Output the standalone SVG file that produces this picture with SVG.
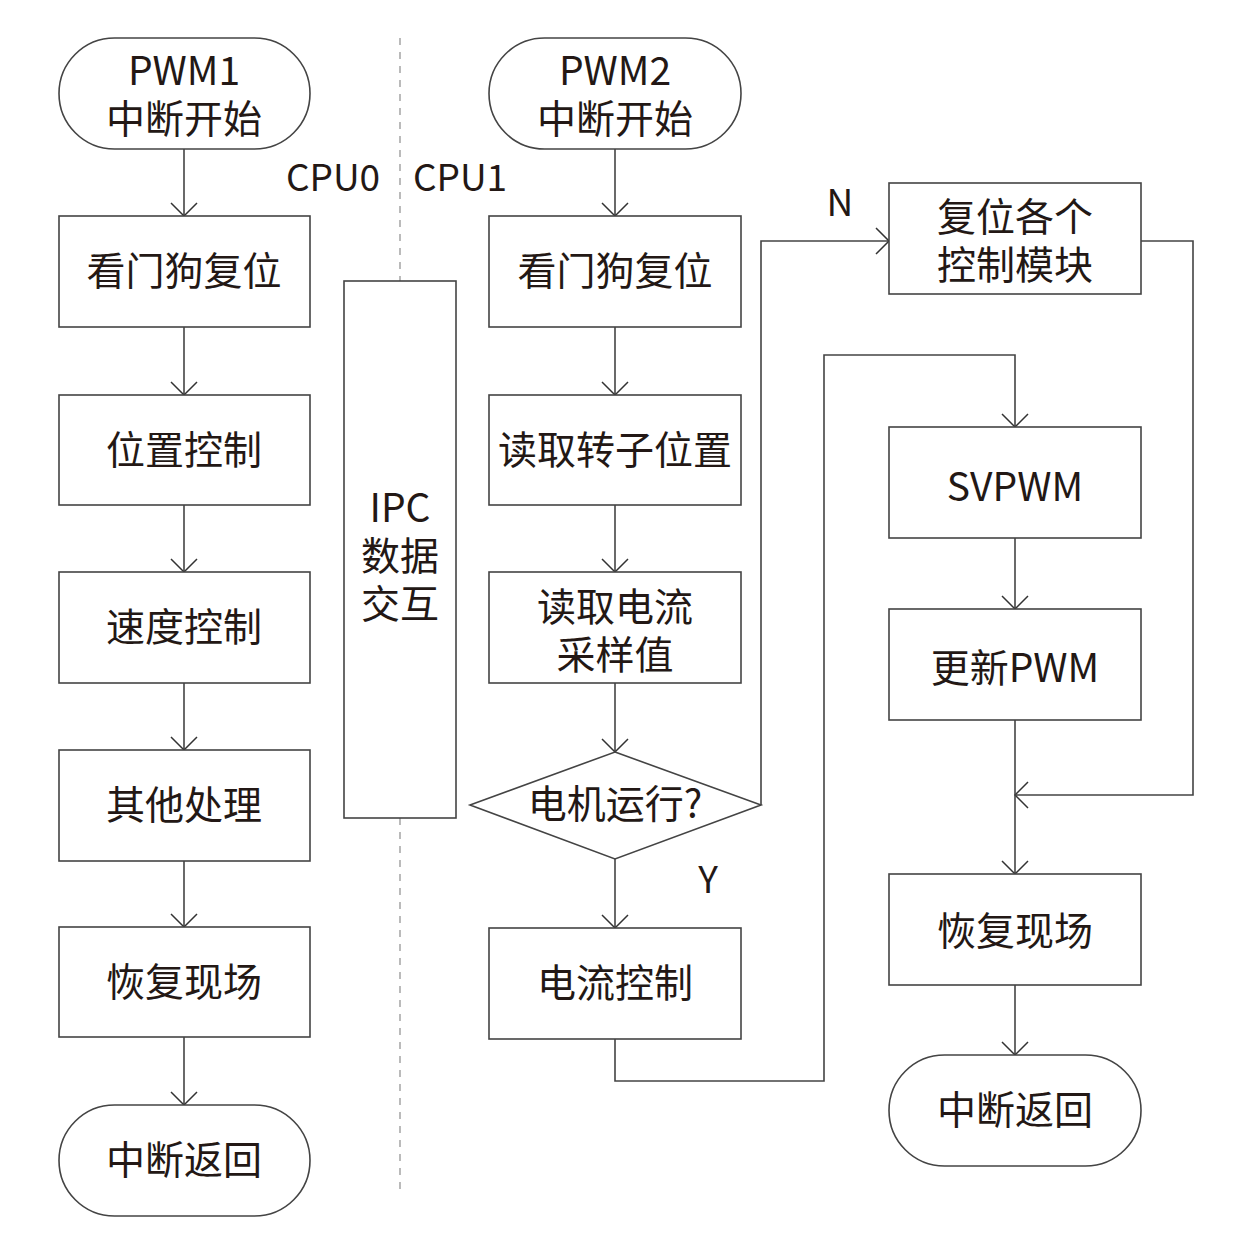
<svg xmlns="http://www.w3.org/2000/svg" width="1251" height="1251" viewBox="0 0 1251 1251">
<defs>
<marker id="arr" markerUnits="userSpaceOnUse" markerWidth="30" markerHeight="30" refX="15" refY="15" orient="auto" overflow="visible">
<path d="M2,2 L15,15 L2,28" fill="none" stroke="#333" stroke-width="1.5"/>
</marker>
<style>
.box{fill:#fff;stroke:#444;stroke-width:1.6}
.t{font-family:"Noto Sans CJK SC","Noto Sans",sans-serif;font-size:39px;fill:#231815;text-anchor:middle}
.s{font-family:"Noto Sans CJK SC","Noto Sans",sans-serif;font-size:37px;fill:#231815;text-anchor:middle}
.c{fill:none;stroke:#444;stroke-width:1.6;marker-end:url(#arr)}
.d{fill:none;stroke:#aaa;stroke-width:1.6;stroke-dasharray:7,7}
</style>
</defs>
<rect width="1251" height="1251" fill="#fff"/>

<g id="divider">
<line class="d" x1="400" y1="38" x2="400" y2="281"/>
<line class="d" x1="400" y1="818" x2="400" y2="1190"/>
<text class="s" x="333" y="191">CPU0</text>
<text class="s" x="460" y="191">CPU1</text>
</g>

<g id="connectors">
<line class="c" x1="184" y1="149" x2="184" y2="216"/>
<line class="c" x1="184" y1="327" x2="184" y2="395"/>
<line class="c" x1="184" y1="505" x2="184" y2="572"/>
<line class="c" x1="184" y1="683" x2="184" y2="750"/>
<line class="c" x1="184" y1="861" x2="184" y2="927"/>
<line class="c" x1="184" y1="1037" x2="184" y2="1105"/>

<line class="c" x1="615" y1="149" x2="615" y2="216"/>
<line class="c" x1="615" y1="327" x2="615" y2="395"/>
<line class="c" x1="615" y1="505" x2="615" y2="572"/>
<line class="c" x1="615" y1="683" x2="615" y2="752"/>
<line class="c" x1="615" y1="859" x2="615" y2="928"/>

<polyline class="c" points="761,805 761,241 889,241"/>
<polyline class="c" points="1141,241 1193,241 1193,795 1015,795"/>
<polyline class="c" points="615,1039 615,1081 824,1081 824,355 1015,355 1015,427"/>
<line class="c" x1="1015" y1="538" x2="1015" y2="609"/>
<line class="c" x1="1015" y1="720" x2="1015" y2="874"/>
<line class="c" x1="1015" y1="985" x2="1015" y2="1055"/>

<text class="s" x="840" y="216">N</text>
<text class="s" x="708" y="893">Y</text>
</g>

<g id="pwm1">
<rect class="box" x="59" y="38" width="251" height="111" rx="55.5"/>
<text class="t" x="184" y="85">PWM1<tspan x="184" dy="48">中断开始</tspan></text>
</g>
<g id="wdt1">
<rect class="box" x="59" y="216" width="251" height="111"/>
<text class="t" x="184" y="285">看门狗复位</text>
</g>
<g id="pos">
<rect class="box" x="59" y="395" width="251" height="110"/>
<text class="t" x="184" y="464">位置控制</text>
</g>
<g id="speed">
<rect class="box" x="59" y="572" width="251" height="111"/>
<text class="t" x="184" y="641">速度控制</text>
</g>
<g id="other">
<rect class="box" x="59" y="750" width="251" height="111"/>
<text class="t" x="184" y="819">其他处理</text>
</g>
<g id="restore1">
<rect class="box" x="59" y="927" width="251" height="110"/>
<text class="t" x="184" y="996">恢复现场</text>
</g>
<g id="ret1">
<rect class="box" x="59" y="1105" width="251" height="111" rx="55.5"/>
<text class="t" x="184" y="1174">中断返回</text>
</g>

<g id="ipc">
<rect class="box" x="344" y="281" width="112" height="537"/>
<text class="t" x="400" y="522">IPC<tspan x="400" dy="48">数据</tspan><tspan x="400" dy="48">交互</tspan></text>
</g>

<g id="pwm2">
<rect class="box" x="489" y="38" width="252" height="111" rx="55.5"/>
<text class="t" x="615" y="85">PWM2<tspan x="615" dy="48">中断开始</tspan></text>
</g>
<g id="wdt2">
<rect class="box" x="489" y="216" width="252" height="111"/>
<text class="t" x="615" y="285">看门狗复位</text>
</g>
<g id="rotor">
<rect class="box" x="489" y="395" width="252" height="110"/>
<text class="t" x="615" y="464">读取转子位置</text>
</g>
<g id="current">
<rect class="box" x="489" y="572" width="252" height="111"/>
<text class="t" x="615" y="621">读取电流<tspan x="615" dy="48">采样值</tspan></text>
</g>
<g id="running">
<polygon class="box" points="615,752 761,805 615,859 470,805"/>
<text class="t" x="615" y="818">电机运行?</text>
</g>
<g id="curctl">
<rect class="box" x="489" y="928" width="252" height="111"/>
<text class="t" x="615" y="997">电流控制</text>
</g>

<g id="resetmods">
<rect class="box" x="889" y="183" width="252" height="111"/>
<text class="t" x="1015" y="231">复位各个<tspan x="1015" dy="48">控制模块</tspan></text>
</g>
<g id="svpwm">
<rect class="box" x="889" y="427" width="252" height="111"/>
<text class="t" x="1015" y="501">SVPWM</text>
</g>
<g id="updpwm">
<rect class="box" x="889" y="609" width="252" height="111"/>
<text class="t" x="1015" y="682">更新PWM</text>
</g>
<g id="restore2">
<rect class="box" x="889" y="874" width="252" height="111"/>
<text class="t" x="1015" y="945">恢复现场</text>
</g>
<g id="ret2">
<rect class="box" x="889" y="1055" width="252" height="111" rx="55.5"/>
<text class="t" x="1015" y="1124">中断返回</text>
</g>
</svg>
